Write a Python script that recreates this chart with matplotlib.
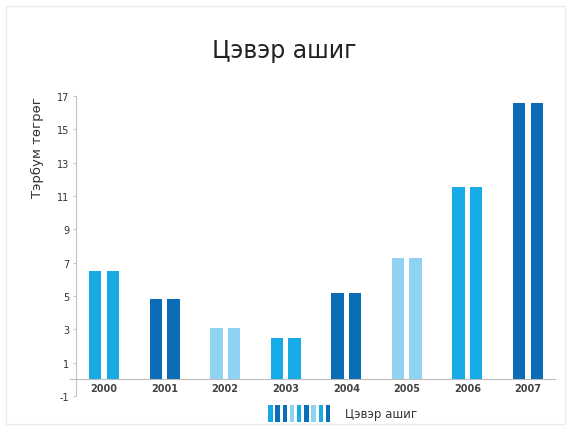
import matplotlib.pyplot as plt
from matplotlib.legend_handler import HandlerBase
from matplotlib.patches import Rectangle
import numpy as np

years = ["2000", "2001", "2002", "2003", "2004", "2005", "2006", "2007"]
profit = [6.5, 4.8, 3.1, 2.45, 5.2, 7.25, 11.55, 16.6]
bar_colors = ["#17a9e4", "#0a6db5", "#8fd2f1", "#17ace7",
              "#0a6db5", "#8fd2f1", "#17ace7", "#0a6db5"]
y_ticks = [-1, 1, 3, 5, 7, 9, 11, 13, 15, 17]
title = "Цэвэр ашиг"
y_label = "Тэрбум төгрөг"
legend_label = "Цэвэр ашиг"


class StripeHandler(HandlerBase):
    """ Draws the legend key as a row of thin coloured stripes. """
    def create_artists(self, legend, orig_handle, xdescent, ydescent,
                       width, height, fontsize, trans):
        cols = ["#17a9e4", "#0a6db5", "#0a6db5", "#8fd2f1", "#17ace7",
                "#0a6db5", "#8fd2f1", "#17ace7", "#0a6db5"]
        step = width / len(cols)
        arts = []
        for i, c in enumerate(cols):
            r = Rectangle((-xdescent + i * step, -ydescent - 0.3 * height),
                          step * 0.62, height * 1.6, facecolor=c,
                          edgecolor="none", transform=trans)
            arts.append(r)
        return arts


fig = plt.figure(figsize=(5.69, 4.35), dpi=100)
fig.patches.append(Rectangle((0.011, 0.022), 0.982, 0.962, transform=fig.transFigure,
                             facecolor="none", edgecolor="#ececec", lw=1.0))
ax = fig.add_axes([0.1336, 0.0874, 0.8366, 0.6897])

x = np.arange(len(years))
w = 0.205
off = 0.145
ax.bar(x - off, profit, width=w, color=bar_colors, zorder=3)
ax.bar(x + off, profit, width=w, color=bar_colors, zorder=3)

# spine layout first: moving a spine resets the tick labels
for side in ["top", "right"]:
    ax.spines[side].set_visible(False)
ax.spines["left"].set_color("#c4c4c4")
ax.spines["left"].set_linewidth(0.8)
ax.spines["bottom"].set_position(("data", 0))
ax.spines["bottom"].set_color("#bdbdbd")
ax.spines["bottom"].set_linewidth(0.8)
ax.spines["bottom"].set_bounds(-0.56, 7.45)

ax.set_xlim(-0.462, 7.396)
ax.set_ylim(-1, 17)
ax.set_yticks(y_ticks)
ax.set_yticklabels([str(t) for t in y_ticks], fontsize=7, color="#333333")
ax.set_xticks(x)
ax.set_xticklabels(years, fontsize=7, fontweight="bold", color="#444444")
ax.tick_params(axis="x", length=0, pad=3)
ax.tick_params(axis="y", length=2, width=0.6, color="#bbbbbb", pad=3)

ax.set_ylabel(y_label, fontsize=9.5, color="#333333", loc="top")
ax.yaxis.set_label_coords(-0.067, 1.0)
fig.text(0.5, 0.882, title, ha="center", va="center", fontsize=17, color="#222222")

handle = Rectangle((0, 0), 1, 1)
fig.legend([handle], [legend_label], handler_map={Rectangle: StripeHandler()},
           loc="center", bbox_to_anchor=(0.602, 0.046), frameon=False,
           fontsize=8.5, handlelength=5.5, handleheight=1.0, handletextpad=1.0,
           labelcolor="#333333")

fig.savefig("out.png", dpi=100)
